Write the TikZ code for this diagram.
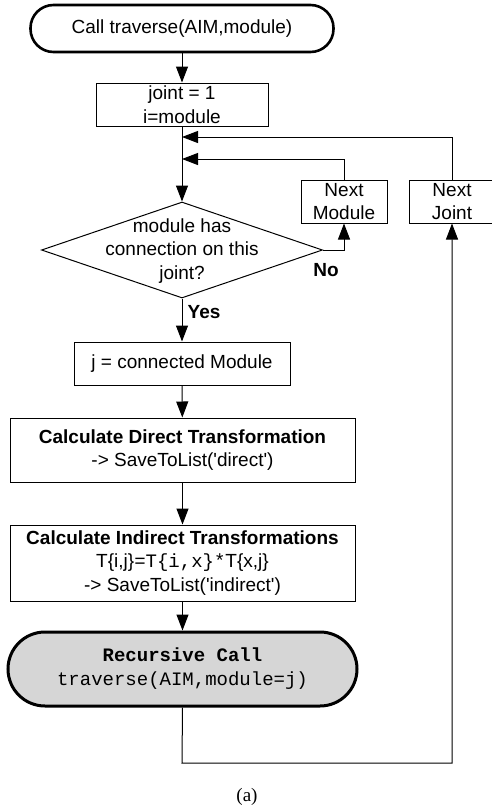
\documentclass[tikz,border=0pt]{standalone}
\usepackage{fontspec}
\setmainfont{Liberation Sans}
\setsansfont{Liberation Sans}
\setmonofont{Liberation Mono}
\newfontfamily\capfont{Liberation Serif}
\usetikzlibrary{arrows.meta,shapes.geometric}
\begin{document}
\begin{tikzpicture}[x=1pt,y=-1pt,
  every node/.style={font=\fontsize{19}{23.5}\selectfont, align=center, inner sep=0pt},
  proc/.style={draw, line width=1pt, rectangle},
  term/.style={draw, line width=2.6pt, rounded corners=23pt},
  conn/.style={line width=1pt},
  arr/.style={conn, -{Triangle[length=16pt,width=12pt]}},
  lbl/.style={font=\fontsize{19}{23}\selectfont\bfseries}
]
\useasboundingbox (0,0) rectangle (492,809);
\clip (0,0) rectangle (492,809);

\node[term, minimum width=303pt, minimum height=47pt] (start) at (182,28.5) {Call traverse(AIM,module)};
\node[proc, minimum width=172pt, minimum height=43pt] (init) at (182,104.5) {joint = 1\\i=module};
\node[diamond, draw, line width=1pt, minimum width=281pt, minimum height=96pt] (dec) at (182,250) {};
\node (dectext) at (182,251) {module has\\connection on this\\joint?};
\node[proc, minimum width=86pt, minimum height=43pt] (nm) at (344,201.5) {Next\\Module};
\node[proc, minimum width=86pt, minimum height=43pt] (nj) at (452,201.5) {Next\\Joint};
\node[proc, minimum width=216pt, minimum height=43pt] (bj) at (182,363.5) {j = connected Module};
\node[proc, minimum width=345pt, minimum height=64pt] (direct) at (182.5,450) {\textbf{Calculate Direct Transformation}\\-> SaveToList(\textquotesingle direct\textquotesingle)};
\node[proc, minimum width=345pt, minimum height=76pt] (indirect) at (182.5,563) {\textbf{Calculate Indirect Transformations}\\T\{i,j\}{\ttfamily\fontsize{19}{23.5}\selectfont =T\{i,x\}*}T\{x,j\}\\-> SaveToList(\textquotesingle indirect\textquotesingle)};
\node[term, fill=black!16, line width=3pt, rounded corners=37pt, minimum width=349pt, minimum height=74pt, font=\ttfamily\fontsize{19}{24}\selectfont] (rec) at (182.5,669) {\textbf{Recursive Call}\\traverse(AIM,module=j)};

\coordinate (m1) at (182,137);
\coordinate (m2) at (182,159);
\coordinate (bot) at (182,763);

\draw[arr] (start) -- (init);
\draw[arr] (init) -- (dec.north);
\draw[arr] (nj.north) |- (m1);
\draw[arr] (nm.north) |- (m2);
\draw[arr] (dec.east) -| (nm.south);
\node[lbl] at (326,270) {No};
\draw[arr] (dec.south) -- (bj.north);
\node[lbl] at (204,312) {Yes};
\draw[arr] (bj) -- (direct);
\draw[arr] (direct) -- (indirect);
\draw[arr] (indirect) -- (rec);
\draw[arr] (rec.south) -- (bot) -| (nj.south);

\node[font=\capfont\fontsize{19}{22}\selectfont] (cap) at (247,797) {(a)};
\end{tikzpicture}
\end{document}
